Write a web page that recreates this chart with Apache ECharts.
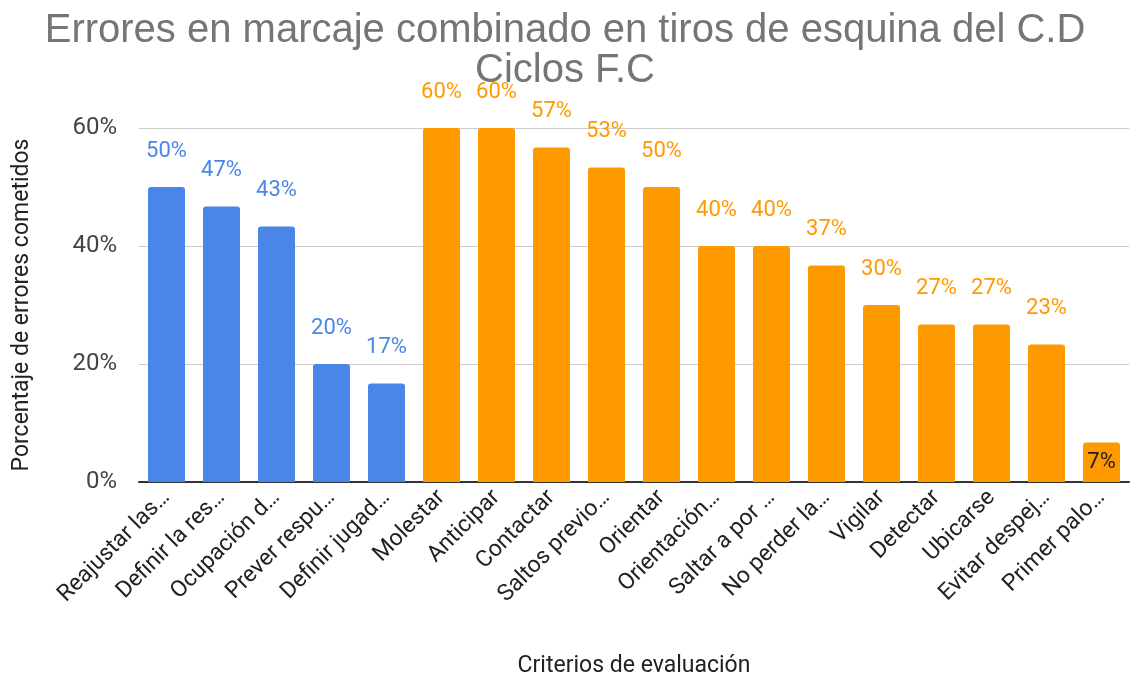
<!DOCTYPE html>
<html>
<head>
<meta charset="utf-8">
<script src="https://cdn.jsdelivr.net/npm/echarts@6/dist/echarts.min.js"></script>
<style>
  html, body { margin: 0; padding: 0; background: #fff; }
  #chart { width: 1130px; height: 676px; }
</style>
</head>
<body>
<div id="chart"></div>
<script>
// criterios (tal como aparecen recortados en el eje)
var categorias = [
  'Reajustar las…', 'Definir la res…', 'Ocupación d…', 'Prever respu…', 'Definir jugad…',
  'Molestar', 'Anticipar', 'Contactar', 'Saltos previo…', 'Orientar',
  'Orientación…', 'Saltar a por …', 'No perder la…', 'Vigilar', 'Detectar',
  'Ubicarse', 'Evitar despej…', 'Primer palo…'
];
// porcentaje de errores cometidos
var valores = [50, 46.7, 43.3, 20, 16.7, 60, 60, 56.7, 53.3, 50, 40, 40, 36.7, 30, 26.7, 26.7, 23.3, 6.7];
// grupo de cada criterio: 0 = azul, 1 = naranja
var grupo = [0, 0, 0, 0, 0, 1, 1, 1, 1, 1, 1, 1, 1, 1, 1, 1, 1, 1];
var yTicks = [0, 20, 40, 60];

var colores = ['#4a86e8', '#ff9900'];
var fuente = 'Roboto, Arial, sans-serif';

var datos = valores.map(function (v, i) {
  var d = { value: v, itemStyle: { color: colores[grupo[i]], borderRadius: [3, 3, 0, 0] } };
  if (v < 10) {
    d.label = { position: 'inside', color: '#222' };
  } else {
    d.label = { color: colores[grupo[i]] };
  }
  return d;
});

var chart = echarts.init(document.getElementById('chart'));
chart.setOption({
  animation: false,
  title: {
    text: 'Errores en marcaje combinado en tiros de esquina del C.D\nCiclos F.C',
    left: 'center',
    top: 6,
    padding: [5, 0, 5, 16],
    textStyle: { color: '#757575', fontSize: 40, fontWeight: 'normal', fontFamily: 'Liberation Sans, Arial, sans-serif', lineHeight: 40 }
  },
  grid: { left: 139, right: 1, top: 128, bottom: 194, outerBoundsMode: 'none' },
  xAxis: {
    type: 'category',
    data: categorias,
    name: 'Criterios de evaluación',
    nameLocation: 'middle',
    nameGap: 173,
    nameTextStyle: { color: '#222', fontSize: 23, fontFamily: fuente },
    axisLine: { lineStyle: { color: '#333', width: 2 } },
    axisTick: { show: false },
    axisLabel: { rotate: 45, interval: 0, color: '#222', fontSize: 23, fontFamily: fuente, margin: 12 }
  },
  yAxis: {
    type: 'value',
    min: yTicks[0],
    max: yTicks[yTicks.length - 1],
    interval: 20,
    name: 'Porcentaje de errores cometidos',
    nameLocation: 'middle',
    nameGap: 105,
    nameTextStyle: { color: '#222', fontSize: 23, fontFamily: fuente },
    axisLabel: { formatter: '{value}%', color: '#444', fontSize: 24, fontFamily: fuente, margin: 22 },
    splitLine: { lineStyle: { color: '#ccc' } }
  },
  series: [{
    type: 'bar',
    data: datos,
    barWidth: 37,
    label: {
      show: true,
      position: 'top',
      distance: 25,
      fontSize: 22,
      fontFamily: fuente,
      formatter: function (p) { return Math.round(p.value) + '%'; }
    }
  }]
});
</script>
</body>
</html>
